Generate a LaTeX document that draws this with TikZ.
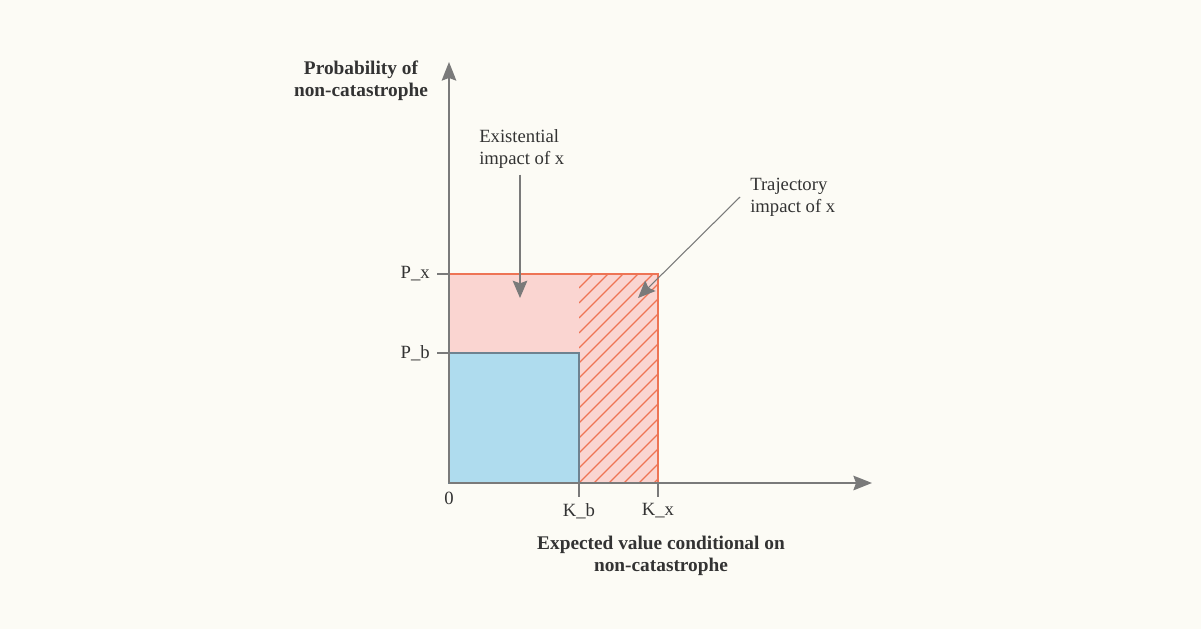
\documentclass[tikz,border=0pt]{standalone}
\usepackage{fontspec}
\setmainfont{Liberation Serif}
\usepackage{xcolor}
\usetikzlibrary{arrows.meta, positioning}

\definecolor{paper}{HTML}{FCFBF5}
\definecolor{axisgray}{HTML}{7A7A7A}
\definecolor{inkgray}{HTML}{333333}
\definecolor{pinkfill}{HTML}{FAD5D1}
\definecolor{hatchred}{HTML}{EE7455}
\definecolor{bluefill}{HTML}{AFDCEE}
\definecolor{blueedge}{HTML}{6E8290}

\tikzset{
    axis/.style={draw=axisgray, line width=1pt, -{Stealth[length=14, width=11, inset=2]}},
    pointer/.style={draw=axisgray, line width=0.8pt, -{Stealth[length=13, width=11, inset=2]}},
    tick/.style={draw=axisgray, line width=0.8pt},
    lbl/.style={text=inkgray, font=\fontsize{14}{16.5}\selectfont, inner sep=0pt},
    title/.style={lbl, font=\fontsize{14.5}{16.5}\selectfont\bfseries, align=center}
}

\begin{document}
\begin{tikzpicture}[x=0.75pt, y=0.75pt]
                \fill[paper] (-449,-146) rectangle (752,483);
                \useasboundingbox (-449,-146) rectangle (752,483);

                % points on the axes
                \coordinate (O) at (0,0);
                \coordinate (Kb) at (130,0);
                \coordinate (Kx) at (209,0);
                \coordinate (Pb) at (0,130);
                \coordinate (Px) at (0,209);
                \coordinate (ytip) at (0,421);
                \coordinate (xtip) at (423,0);

                % shaded regions
                \fill[pinkfill] (O) rectangle (Kx |- Px);
                \begin{scope}
                    \clip (Kb) rectangle (Kx |- Px);
                    \foreach \y in {-225,-210,...,225}
                        \draw[hatchred, line width=0.9pt] (130,\y) -- (209,\y+79);
                \end{scope}
                \draw[hatchred, line width=0.9pt] (Px) -- (Kx |- Px) -- (Kx);
                \filldraw[fill=bluefill, draw=blueedge, line width=1pt] (O) rectangle (Kb |- Pb);

                % ticks
                \draw[tick] (Kb) -- ++(0,-14);
                \draw[tick] (Kx) -- ++(0,-14);
                \draw[tick] (Pb) -- ++(-12,0);
                \draw[tick] (Px) -- ++(-12,0);

                % axes
                \draw[axis] (O) -- (ytip);
                \draw[axis] (O) -- (xtip);

                % tick labels
                \node[lbl] (zero) at (0,-15) {0};
                \node[lbl, below=21pt of Kb, anchor=center] (kblbl) {K\_b};
                \node[lbl, below=21pt of Kx, anchor=center] (kxlbl) {K\_x};
                \node[lbl, anchor=east] (pblbl) at (-19,130) {P\_b};
                \node[lbl, anchor=east] (pxlbl) at (-19,209) {P\_x};

                % axis titles
                \node[title] (ytitle) at (-88,402) {Probability of\\non-catastrophe};
                \node[title] (xtitle) at (212,-73) {Expected value conditional on\\non-catastrophe};

                % annotations
                \node[lbl, align=left, anchor=west] (exist) at (30,334) {Existential\\impact of x};
                \node[lbl, align=left, anchor=west] (traj) at (301,286) {Trajectory\\impact of x};
                \coordinate (existend) at (71,185);
                \coordinate (trajstart) at (291,286);
                \coordinate (trajend) at (189,185);
                \draw[pointer] (exist.south -| existend) ++(0,-6) -- (existend);
                \draw[pointer] (trajstart) -- (trajend);
\end{tikzpicture}
\end{document}
